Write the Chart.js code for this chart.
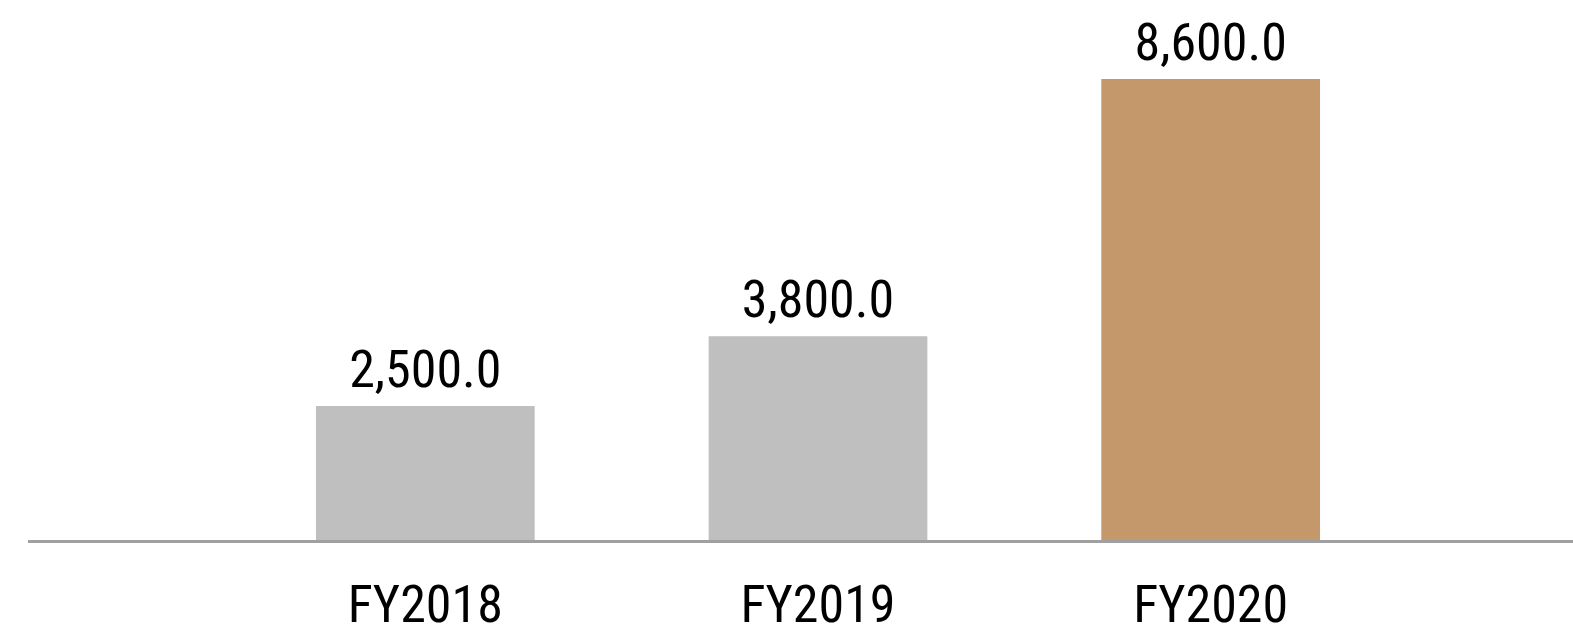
<!DOCTYPE html>
<html>
<head>
<meta charset="utf-8">
<script src="https://cdn.jsdelivr.net/npm/chart.js@4/dist/chart.umd.min.js"></script>
<style>
  html, body { margin: 0; padding: 0; background: #fff; }
  #wrap { width: 1573px; height: 626px; }
</style>
</head>
<body>
<div id="wrap"><canvas id="myChart"></canvas></div>
<script>
var tahun = ["FY2018", "FY2019", "FY2020"];
var nilai = [2500, 3800, 8600];
var warna = ["#bfbfbf", "#bfbfbf", "#c4986a"];

var hurufFont = "'Roboto Condensed', 'Liberation Sans Narrow', 'DejaVu Sans Condensed', sans-serif";

// angka di atas batang
var labelNilai = {
    id: 'labelNilai',
    afterDatasetsDraw(chart) {
        var ctx = chart.ctx;
        var meta = chart.getDatasetMeta(0);
        ctx.save();
        ctx.font = '52px ' + hurufFont;
        ctx.fillStyle = '#000';
        ctx.textAlign = 'center';
        ctx.textBaseline = 'alphabetic';
        meta.data.forEach(function(bar, i) {
            var teks = nilai[i].toLocaleString('en-US', { minimumFractionDigits: 1, maximumFractionDigits: 1 });
            ctx.fillText(teks, bar.x, bar.y - 19);
        });
        ctx.restore();
    }
};

// garis dasar abu-abu selebar kanvas
var garisDasar = {
    id: 'garisDasar',
    afterDatasetsDraw(chart) {
        var ctx = chart.ctx;
        var y = chart.scales.y.getPixelForValue(0);
        ctx.save();
        ctx.strokeStyle = '#a0a0a0';
        ctx.lineWidth = 3;
        ctx.beginPath();
        ctx.moveTo(28, y + 1.5);
        ctx.lineTo(chart.width, y + 1.5);
        ctx.stroke();
        ctx.restore();
    }
};

function chart1(){
    const ctx = document.getElementById('myChart').getContext('2d');
    const myChart = new Chart(ctx, {
        type: 'bar',
        data: {
            labels: tahun,
            datasets: [{
                label: 'Nilai',
                data: nilai,
                backgroundColor: warna,
                borderWidth: 0,
                categoryPercentage: 1,
                barPercentage: 0.557
            }]
        },
        options: {
            responsive: true,
            maintainAspectRatio: false,
            animation: false,
            layout: {
                padding: { left: 229, right: 166, top: 4, bottom: 0 }
            },
            plugins: {
                legend: { display: false },
                tooltip: { enabled: false }
            },
            scales: {
                x: {
                    grid: { display: false },
                    border: { display: false },
                    afterFit: function(scale) { scale.height = 86; },
                    ticks: {
                        color: '#000',
                        padding: 35,
                        font: { family: hurufFont, size: 52, lineHeight: 1 }
                    }
                },
                y: {
                    display: false,
                    min: 0,
                    max: 10000
                }
            }
        },
        plugins: [garisDasar, labelNilai]
    });
}
chart1()
</script>
</body>
</html>
